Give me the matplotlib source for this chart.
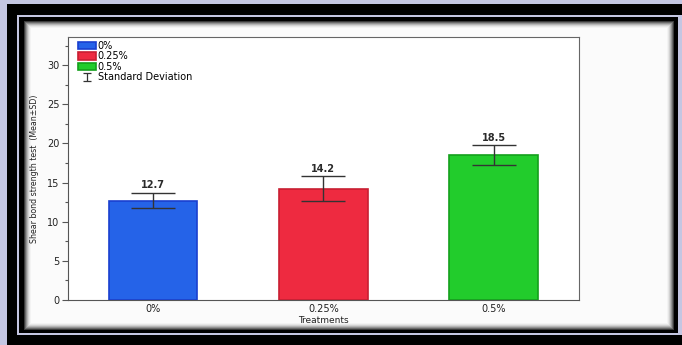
import matplotlib.pyplot as plt
from matplotlib.patches import Rectangle
from matplotlib.lines import Line2D
from matplotlib.path import Path
from matplotlib.ticker import MultipleLocator

# data
treatments = ['0%', '0.25%', '0.5%']
means = [12.7, 14.2, 18.5]
sd = [0.95, 1.6, 1.25]
face_colors = ['#2563e8', '#ee2a40', '#22cc2c']
edge_colors = ['#1a3fcf', '#c81f32', '#14a01c']

W, H = 682, 345
fig = plt.figure(figsize=(W / 100, H / 100), dpi=100, facecolor='#c4c6e2')


def box(x0, y0, x1, y1, color):
    # pixel box, y measured from top
    fig.patches.append(Rectangle((x0, H - y1), x1 - x0, y1 - y0, facecolor=color,
                                 edgecolor='none', transform=None, zorder=-10))


# screenshot style frame
box(7, 4, W, H, 'black')
box(17, 15, W, H - 10, '#c4c6e2')
box(19, 17, 678, 333, 'black')
shades = ['#3a3a3a', '#6a6a6a', '#929292', '#b5b5b5', '#d2d2d2', '#e6e6e6', '#f3f3f3', '#fbfbfb']
for i, c in enumerate(shades):
    box(24 + i, 21 + i, 674 - i, 330 - i, c)

ax = fig.add_axes([67.7 / W, 1 - 300 / H, (579 - 67.7) / W, (300 - 37) / H])
ax.set_facecolor('white')

x = range(len(treatments))
handles = []
for i in x:
    b = ax.bar(i, means[i], width=0.52, color=face_colors[i], edgecolor=edge_colors[i],
               linewidth=1.2, label=treatments[i], zorder=2)
    handles.append(b)

eb = ax.errorbar(x, means, yerr=sd, fmt='none', ecolor='#333333', elinewidth=1,
                 capsize=15.5, capthick=1, zorder=3)
eb[1][1].set_color('#9a9a9a')
eb[1][1].set_linewidth(1.4)

# "I" shaped key for the legend
i_marker = Path([(-0.5, 0.5), (0.5, 0.5), (0, 0.5), (0, -0.5), (-0.5, -0.5), (0.5, -0.5)],
                [Path.MOVETO, Path.LINETO, Path.MOVETO, Path.LINETO, Path.MOVETO, Path.LINETO])
handles.append(Line2D([], [], linestyle='none', marker=i_marker, markersize=5.5,
                      markeredgecolor='#333333', markerfacecolor='none', markeredgewidth=0.9))

for i in x:
    ax.annotate(f'{means[i]}', (i, means[i] + sd[i]), xytext=(0, 2), textcoords='offset points',
                ha='center', va='bottom', fontsize=7, color='#2a2a2a', fontweight='semibold')

ax.set_xlim(-0.5, 2.5)
ax.set_ylim(0, 33.6)
ax.set_xticks(list(x))
ax.set_xticklabels(treatments)
ax.yaxis.set_major_locator(MultipleLocator(5))
ax.yaxis.set_minor_locator(MultipleLocator(2.5))
ax.tick_params(axis='x', length=0, labelsize=7, pad=3, colors='#222222')
ax.tick_params(axis='y', which='major', length=4, width=0.8, labelsize=7, pad=2,
               colors='#555555', labelcolor='#222222')
ax.tick_params(axis='y', which='minor', length=2.5, width=0.8, colors='#555555')
for s in ['left', 'bottom']:
    ax.spines[s].set_color('#555555')
for s in ['top', 'right']:
    ax.spines[s].set_color('#666666')
    ax.spines[s].set_linewidth(0.8)

ax.set_xlabel('Treatments', fontsize=6.5, labelpad=1, color='#222222')
ax.set_ylabel('Shear bond strength test  (Mean±SD)', fontsize=6.3, labelpad=6,
              color='#222222', fontstretch='condensed')

ax.legend(handles, treatments + ['Standard Deviation'], loc='upper left',
          bbox_to_anchor=(0.012, 1.0), frameon=False, fontsize=7,
          handlelength=1.9, handleheight=0.8, handletextpad=0.15, labelspacing=0.05,
          borderaxespad=0.2, borderpad=0.2)

fig.savefig('out.png', dpi=100, facecolor=fig.get_facecolor())
